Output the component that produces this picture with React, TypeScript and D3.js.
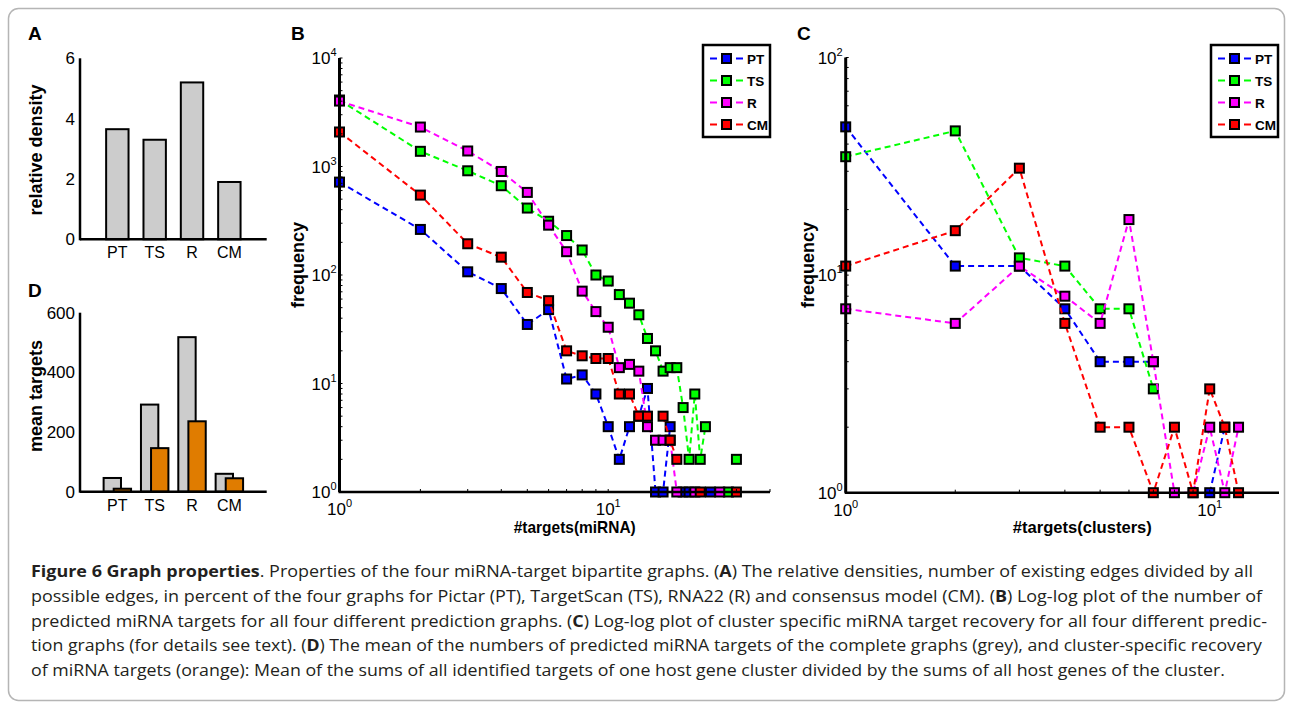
import * as React from "react";
import { scaleLinear, scaleLog, line } from "d3";

// four prediction graphs
const methods = ["PT", "TS", "R", "CM"];
const seriesColors = ["#0000ff", "#00ff00", "#ff00ff", "#ff0000"];

// A: relative density
const densityValues = [3.65, 3.3, 5.2, 1.9];
const densityTicks = [0, 2, 4, 6];

// D: mean targets (complete graphs vs cluster-specific)
const meanAll = [46, 292, 518, 60];
const meanCluster = [10, 146, 236, 45];
const meanTicks = [0, 200, 400, 600];

// B: frequency of #targets(miRNA); null = no observation
const mirnaTargets = [1, 2, 3, 4, 5, 6, 7, 8, 9, 10, 11, 12, 13, 14, 15, 16, 17, 18, 19, 20, 21, 22, 23, 24, 25, 26, 27, 28, 29, 30];
const mirnaPT = [718, 263, 107, 75, 35, 48, 11, 12, 8, 4, 2, 4, 5, 9, 1, 1, 4, null, 1, 1, null, null, null, 1, null, null, null, null, null, null];
const mirnaTS = [4100, 1380, 913, 665, 414, 313, 231, 170, 100, 88, 66, 55, 43, 26, 20, 13, 14, 14, 6, 2, 8, 2, 4, null, null, null, null, 1, null, 2];
const mirnaR = [4010, 2310, 1390, 900, 577, 288, 164, 71, 46, 33, 14, 15, 13, 4, 3, 3, 3, 1, null, null, 1, null, null, null, null, 1, null, null, null, null];
const mirnaCM = [2080, 545, 194, 146, 69, 58, 20, 18, 17, 17, 8, 8, 5, 5, null, 5, 3, 2, null, null, null, 1, null, null, null, null, null, null, null, 1];

// C: frequency of #targets(clusters)
const clusterTargets = [1, 2, 3, 4, 5, 6, 7, 8, 9, 10, 11, 12];
const clusterPT = [48, 11, 11, 7, 4, 4, 4, null, null, 1, 2, null];
const clusterTS = [35, 46, 12, 11, 7, 7, 3, null, null, null, null, null];
const clusterR = [7, 6, 11, 8, 6, 18, 4, 1, 1, 2, 1, 2];
const clusterCM = [11, 16, 31, 6, 2, 2, 1, 2, 1, 3, 2, 1];

// caption: [text, bold]
const captionLines: [string, boolean][][] = [
  [["Figure 6 Graph properties", true], [". Properties of the four miRNA-target bipartite graphs. (", false], ["A", true], [") The relative densities, number of existing edges divided by all", false]],
  [["possible edges, in percent of the four graphs for Pictar (PT), TargetScan (TS), RNA22 (R) and consensus model (CM). (", false], ["B", true], [") Log-log plot of the number of", false]],
  [["predicted miRNA targets for all four different prediction graphs. (", false], ["C", true], [") Log-log plot of cluster specific miRNA target recovery for all four different predic-", false]],
  [["tion graphs (for details see text). (", false], ["D", true], [") The mean of the numbers of predicted miRNA targets of the complete graphs (grey), and cluster-specific recovery", false]],
  [["of miRNA targets (orange): Mean of the sums of all identified targets of one host gene cluster divided by the sums of all host genes of the cluster.", false]],
];
const captionWidths = [1222, 1231, 1236, 1231, 1194];

const font = "'Liberation Sans', Arial, Helvetica, sans-serif";

function BarPanel({ letter, letterY, yLabel, yLabelY, ticks, yMax, yBottom, yTop, groups }) {
  const x = scaleLinear().domain([0, 5]).range([80, 266.7]);
  const y = scaleLinear().domain([0, yMax]).range([yBottom, yTop]);
  return (
    <g fontFamily={font}>
      <text x={28} y={letterY} fontSize={19} fontWeight="bold">{letter}</text>
      <text transform={`translate(42,${yLabelY}) rotate(-90)`} textAnchor="middle" fontSize={18} fontWeight="bold">{yLabel}</text>
      {groups.map((g, gi) =>
        g.values.map((v, i) => (
          <rect key={`${gi}-${i}`} x={x(i + 1 + g.offset - g.width / 2)} y={y(v)}
            width={x(g.width) - x(0)} height={y(0) - y(v)}
            fill={g.fill} stroke="#000" strokeWidth={2} />
        ))
      )}
      <line x1={x(0)} x2={x(5)} y1={y(0)} y2={y(0)} stroke="#000" strokeWidth={2.5} />
      <line x1={x(0)} x2={x(0)} y1={y(0) + 1} y2={y(yMax)} stroke="#000" strokeWidth={2.5} />
      {ticks.map((t) => (
        <text key={t} x={x(0) - 5} y={y(t) + 6} textAnchor="end" fontSize={17}>{t}</text>
      ))}
      {methods.map((m, i) => (
        <text key={m} x={x(i + 1)} y={y(0) + 19} textAnchor="middle" fontSize={16}>{m}</text>
      ))}
    </g>
  );
}

function LogPanel({ letter, letterX, xs, series, xMax, yMax, xLeft, xRight, yBottom, yTop, xLabel, xLabelWidth, yLabelX, legendX }) {
  const x = scaleLog().domain([1, xMax]).range([xLeft, xRight]);
  const y = scaleLog().domain([1, yMax]).range([yBottom, yTop]);
  const path = line<any>()
    .defined((d) => d[1] != null)
    .x((d) => x(d[0]))
    .y((d) => y(d[1]));
  const majorX = x.ticks().filter((t) => Math.log10(t) % 1 === 0);
  const majorY = y.ticks().filter((t) => Math.log10(t) % 1 === 0);
  const mid = (xLeft + xRight) / 2 + 20;
  return (
    <g fontFamily={font}>
      <text x={letterX} y={40} fontSize={19} fontWeight="bold">{letter}</text>
      <text transform={`translate(${yLabelX},265) rotate(-90)`} textAnchor="middle" fontSize={18} fontWeight="bold">frequency</text>
      <text x={mid} y={533} textAnchor="middle" fontSize={17} fontWeight="bold"
        textLength={xLabelWidth} lengthAdjust="spacingAndGlyphs">{xLabel}</text>
      {series.map((vals, si) => {
        const pts = xs.map((t, i) => [t, vals[i]]);
        return (
          <g key={si}>
            <path d={path(pts)} fill="none" stroke={seriesColors[si]} strokeWidth={2} strokeDasharray="6 4" />
            {pts.filter((p) => p[1] != null).map((p) => (
              <rect key={p[0]} x={x(p[0]) - 4.5} y={y(p[1]) - 4.5} width={9} height={9}
                fill={seriesColors[si]} stroke="#000" strokeWidth={2} />
            ))}
          </g>
        );
      })}
      <line x1={xLeft - 1} x2={xRight} y1={yBottom} y2={yBottom} stroke="#000" strokeWidth={2.5} />
      <line x1={xLeft} x2={xLeft} y1={yBottom} y2={yTop} stroke="#000" strokeWidth={3} />
      {x.ticks().map((t) => (
        <line key={t} x1={x(t)} x2={x(t)} y1={yBottom} y2={yBottom - 3} stroke="#000" strokeWidth={1} />
      ))}
      {y.ticks().map((t) => (
        <line key={t} x1={xLeft} x2={xLeft + 3} y1={y(t)} y2={y(t)} stroke="#000" strokeWidth={1} />
      ))}
      {majorY.map((t) => (
        <text key={t} x={xLeft - 3} y={y(t) + 6} textAnchor="end" fontSize={17}>
          10<tspan dy={-8} fontSize={11}>{Math.round(Math.log10(t))}</tspan>
        </text>
      ))}
      {majorX.map((t) => (
        <text key={t} x={x(t)} y={yBottom + 23} textAnchor="middle" fontSize={17}>
          10<tspan dy={-8} fontSize={11}>{Math.round(Math.log10(t))}</tspan>
        </text>
      ))}
      <rect x={legendX} y={45} width={67} height={92} fill="#fff" stroke="#000" strokeWidth={2.5} />
      {methods.map((m, i) => {
        const ly = 58.5 + i * 22;
        return (
          <g key={m}>
            <line x1={legendX + 7} x2={legendX + 14} y1={ly} y2={ly} stroke={seriesColors[i]} strokeWidth={2} />
            <line x1={legendX + 33} x2={legendX + 40} y1={ly} y2={ly} stroke={seriesColors[i]} strokeWidth={2} />
            <rect x={legendX + 19} y={ly - 4.5} width={9} height={9} fill={seriesColors[i]} stroke="#000" strokeWidth={2} />
            <text x={legendX + 44} y={ly + 5} fontSize={13.5} fontWeight="bold">{m}</text>
          </g>
        );
      })}
    </g>
  );
}

export default function App() {
  return (
    <svg width={1292} height={708} style={{ position: "absolute", left: 0, top: 0, background: "#fff" }}>
      <rect x={8.5} y={8.5} width={1276} height={692} rx={10} fill="#fff" stroke="#b5b5b5" strokeWidth={1.5} />
      <BarPanel letter="A" letterY={40} yLabel="relative density" yLabelY={150}
        ticks={densityTicks} yMax={6} yBottom={239.3} yTop={58.3}
        groups={[{ values: densityValues, fill: "#cccccc", offset: 0, width: 0.6 }]} />
      <BarPanel letter="D" letterY={297} yLabel="mean targets" yLabelY={396}
        ticks={meanTicks} yMax={600} yBottom={491.7} yTop={312.7}
        groups={[
          { values: meanAll, fill: "#cccccc", offset: -0.135, width: 0.465 },
          { values: meanCluster, fill: "#e07c00", offset: 0.135, width: 0.465 },
        ]} />
      <LogPanel letter="B" letterX={291} xs={mirnaTargets} series={[mirnaPT, mirnaTS, mirnaR, mirnaCM]}
        xMax={40} yMax={1e4} xLeft={339.5} xRight={770} yBottom={492} yTop={58}
        xLabel="#targets(miRNA)" xLabelWidth={122} yLabelX={304} legendX={703} />
      <LogPanel letter="C" letterX={797} xs={clusterTargets} series={[clusterPT, clusterTS, clusterR, clusterCM]}
        xMax={15.5} yMax={100} xLeft={845.7} xRight={1279} yBottom={492.7} yTop={57.5}
        xLabel="#targets(clusters)" xLabelWidth={139} yLabelX={814} legendX={1211} />
      <g fontFamily="'Open Sans', 'Noto Sans', sans-serif" fontSize={16} fill="#231f20">
        {captionLines.map((parts, li) => (
          <text key={li} x={31} y={577 + li * 24.8} textLength={captionWidths[li]} lengthAdjust="spacingAndGlyphs">
            {parts.map(([s, b], pi) => (
              <tspan key={pi} fontWeight={b ? "bold" : "normal"}>{s}</tspan>
            ))}
          </text>
        ))}
      </g>
    </svg>
  );
}
